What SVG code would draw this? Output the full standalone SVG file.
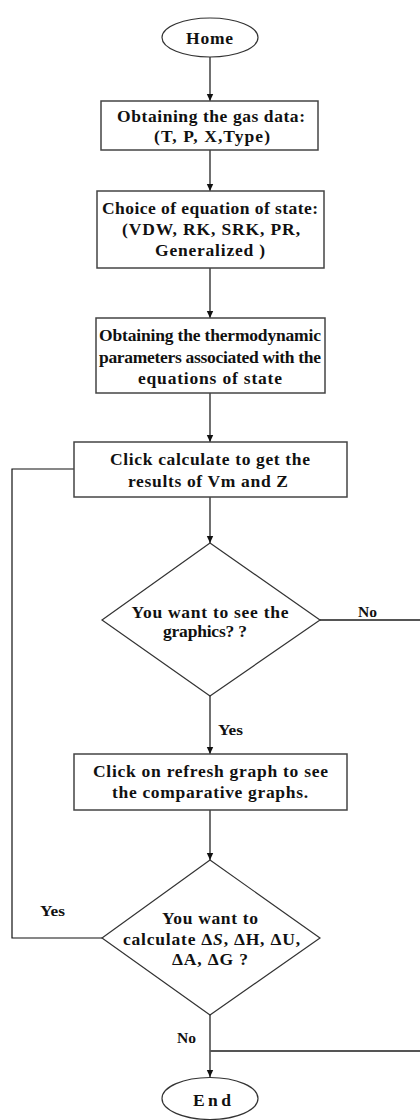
<svg xmlns="http://www.w3.org/2000/svg" width="420" height="1120" viewBox="0 0 420 1120">
<style>
text{font-family:"Liberation Serif","Times New Roman",serif;font-weight:bold;font-size:17.5px;fill:#111;text-anchor:middle}
.box{fill:#fff;stroke:#444;stroke-width:1.5}
.term{fill:#fff;stroke:#333;stroke-width:1.2}
.ln{fill:none;stroke:#111;stroke-width:1.2}
.gl{fill:none;stroke:#555;stroke-width:2}
.lbl{font-size:15px}
</style>
<defs>
<marker id="ah" markerWidth="8" markerHeight="8" refX="7" refY="4" orient="auto" markerUnits="userSpaceOnUse">
<path d="M0,0.8 L7,4 L0,7.2 Z" fill="#111"/>
</marker>
</defs>
<g id="connectors">
<line class="ln" x1="210" y1="57" x2="210" y2="101" marker-end="url(#ah)"/>
<line class="ln" x1="210" y1="150" x2="210" y2="191" marker-end="url(#ah)"/>
<line class="ln" x1="210" y1="268" x2="210" y2="318" marker-end="url(#ah)"/>
<line class="ln" x1="210" y1="393" x2="210" y2="442" marker-end="url(#ah)"/>
<line class="ln" x1="210" y1="497" x2="210" y2="543" marker-end="url(#ah)"/>
<line class="ln" x1="210" y1="696" x2="210" y2="754" marker-end="url(#ah)"/>
<line class="ln" x1="210" y1="810" x2="210" y2="860" marker-end="url(#ah)"/>
<line class="ln" x1="210" y1="1015" x2="210" y2="1077" marker-end="url(#ah)"/>
<polyline class="ln" points="102,938 12,938 12,469 74,469"/>
<line class="gl" x1="320" y1="620" x2="420" y2="620"/>
<line class="gl" x1="210" y1="1051" x2="420" y2="1051"/>
<text class="lbl" x="367.5" y="617" textLength="19" lengthAdjust="spacingAndGlyphs">No</text>
<text class="lbl" x="230.5" y="735" textLength="25" lengthAdjust="spacingAndGlyphs">Yes</text>
<text class="lbl" x="52.5" y="916" textLength="25" lengthAdjust="spacingAndGlyphs">Yes</text>
<text class="lbl" x="186.5" y="1043" textLength="19" lengthAdjust="spacingAndGlyphs">No</text>
</g>
<g id="home">
<ellipse class="term" cx="210" cy="37.5" rx="48" ry="19.5"/>
<text x="209.5" y="43.5" textLength="47" lengthAdjust="spacing">Home</text>
</g>
<g id="gas-data">
<rect class="box" x="101" y="101" width="217" height="49"/>
<text x="211" y="121.5" textLength="188" lengthAdjust="spacing">Obtaining the gas data:</text>
<text x="212" y="141.5" textLength="116" lengthAdjust="spacing">(T, P, X,Type)</text>
</g>
<g id="choice-eos">
<rect class="box" x="97" y="191" width="227" height="77"/>
<text x="210" y="213.5" textLength="216" lengthAdjust="spacing">Choice of equation of state:</text>
<text x="211" y="234.5" textLength="178" lengthAdjust="spacing">(VDW, RK, SRK, PR,</text>
<text x="210" y="255.5" textLength="110" lengthAdjust="spacing">Generalized )</text>
</g>
<g id="thermo-params">
<rect class="box" x="96" y="318" width="229" height="75"/>
<text x="210" y="340.5" textLength="222" lengthAdjust="spacing">Obtaining the thermodynamic</text>
<text x="210" y="362.5" textLength="222" lengthAdjust="spacing">parameters associated with the</text>
<text x="210" y="383.5" textLength="144" lengthAdjust="spacing">equations of state</text>
</g>
<g id="calculate">
<rect class="box" x="74" y="442" width="273" height="55"/>
<text x="210" y="464.5" textLength="200" lengthAdjust="spacing">Click calculate to get the</text>
<text x="208" y="486.5" textLength="160" lengthAdjust="spacing">results of Vm and Z</text>
</g>
<g id="see-graphics">
<polygon class="term" points="210,543 320,620 210,696 102,620"/>
<text x="210" y="617.5" textLength="157" lengthAdjust="spacing">You want to see the</text>
<text x="205" y="636.5" textLength="84" lengthAdjust="spacing">graphics? ?</text>
</g>
<g id="refresh-graph">
<rect class="box" x="74" y="754" width="273" height="56"/>
<text x="210.5" y="776.5" textLength="235" lengthAdjust="spacing">Click on refresh graph to see</text>
<text x="210" y="797.5" textLength="196" lengthAdjust="spacing">the comparative graphs.</text>
</g>
<g id="calc-delta">
<polygon class="term" points="210,860 320,938 210,1015 102,938"/>
<text x="210" y="923.5" textLength="96" lengthAdjust="spacing">You want to</text>
<text x="211.5" y="944.5" textLength="177" lengthAdjust="spacing">calculate Δ<tspan font-style="italic">S</tspan>, ΔH, ΔU,</text>
<text x="210" y="964.5" textLength="76" lengthAdjust="spacing">ΔA, ΔG ?</text>
</g>
<g id="end">
<ellipse class="term" cx="210" cy="1098.5" rx="48" ry="21"/>
<text x="212" y="1105.5" textLength="38" lengthAdjust="spacing">End</text>
</g>
</svg>
